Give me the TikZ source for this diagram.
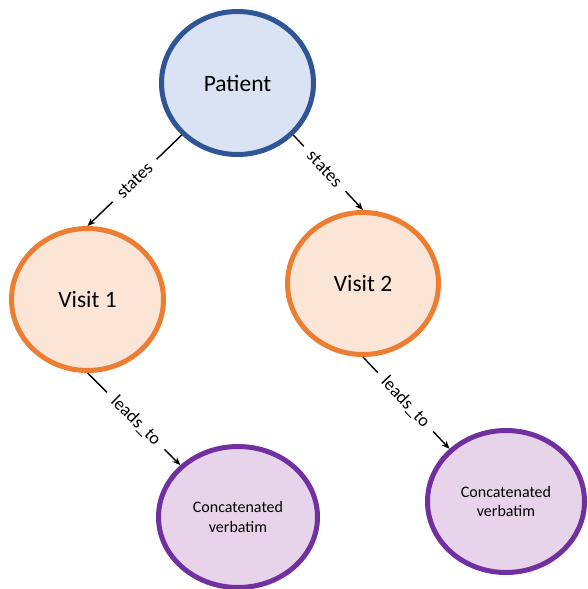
\documentclass[tikz,border=0pt]{standalone}
\usepackage{fontspec}
\setmainfont{Carlito}
\usetikzlibrary{shapes.geometric,arrows.meta}
\definecolor{pfill}{HTML}{DAE3F3}
\definecolor{pdraw}{HTML}{2F5597}
\definecolor{vfill}{HTML}{FBE5D6}
\definecolor{vdraw}{HTML}{ED7D31}
\definecolor{cfill}{HTML}{E8D4EA}
\definecolor{cdraw}{HTML}{7030A0}
\begin{document}
\begin{tikzpicture}[x=1pt,y=-1pt,
  ent/.style={ellipse, line width=5pt, inner sep=0pt},
  big/.style={font=\fontsize{23.5}{28}\selectfont},
  small/.style={font=\fontsize{16}{19.5}\selectfont, align=center},
  rel/.style={line width=1.4pt, -{Stealth[length=8pt,width=6.5pt]}},
  lab/.style={sloped, fill=white, inner xsep=9pt, inner ysep=1pt, font=\fontsize{18}{21}\selectfont}]
\useasboundingbox (0,0) rectangle (587,589);
\node[ent, big, fill=pfill, draw=pdraw, minimum width=152pt, minimum height=143pt] (patient) at (237.5,83) {Patient};
\node[ent, big, fill=vfill, draw=vdraw, minimum width=152pt, minimum height=142pt] (v1) at (87.5,299.5) {Visit 1};
\node[ent, big, fill=vfill, draw=vdraw, minimum width=151pt, minimum height=142pt] (v2) at (363,283.5) {Visit 2};
\node[ent, small, fill=cfill, draw=cdraw, minimum width=159pt, minimum height=141pt] (c1) at (238,517) {Concatenated\\verbatim};
\node[ent, small, fill=cfill, draw=cdraw, minimum width=157pt, minimum height=142pt] (c2) at (506,501.5) {Concatenated\\verbatim};
\draw[rel] (patient.223) -- node[lab, pos=0.5]{states} (v1.north);
\draw[rel] (patient.317.5) -- node[lab, pos=0.45]{states} (v2.north);
\draw[rel] (v1.south) -- node[lab, pos=0.52]{leads\_to} (c1.138);
\draw[rel] (v2.south) -- node[lab, pos=0.49]{leads\_to} (c2.137.5);
\end{tikzpicture}
\end{document}
